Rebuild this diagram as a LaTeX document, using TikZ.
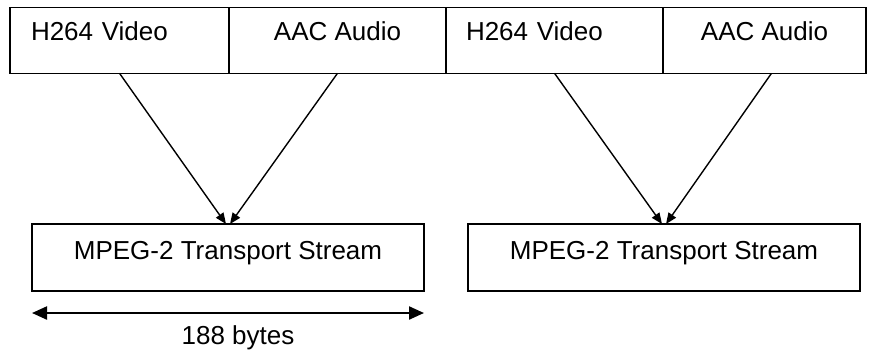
\documentclass[tikz,border=0pt]{standalone}
\usepackage{fontspec}
\setmainfont{Liberation Sans}
\usetikzlibrary{arrows.meta,positioning}

\begin{document}
\begin{tikzpicture}[
x=0.5pt, y=-0.5pt,
font=\fontsize{13}{15}\selectfont,
node distance=0pt,
cell/.style={draw, line width=0.7pt, outer sep=0pt, inner sep=0pt, minimum height=32.75pt, text height=0.75em, text depth=7.5pt},
vcell/.style={cell, minimum width=109.5pt, text width=88.5pt, align=left},
acell/.style={cell, minimum width=108.5pt, align=center},
tsbox/.style={draw, line width=0.7pt, outer sep=0pt, minimum width=196pt, minimum height=33.5pt, text height=0.75em, text depth=5.75pt},
arr/.style={-{Triangle[length=5.5pt,width=4.5pt]}, line width=0.7pt},
span/.style={{Triangle[length=7.5pt,width=6.5pt]}-{Triangle[length=7.5pt,width=6.5pt]}, line width=1.1pt}
]
\useasboundingbox (0,0) rectangle (870,349);
% packet row
\node[vcell] (v1) at (119.5,40.5) {H264 Video};
\node[acell, right=of v1] (a1) {AAC Audio};
\node[vcell, minimum width=108.5pt, right=of a1] (v2) {H264 Video};
\node[acell, minimum width=101.5pt, right=of v2] (a2) {AAC Audio};
% transport streams
\node[tsbox] (ts1) at (228,257.5) {MPEG-2 Transport Stream};
\node[tsbox, right=22pt of ts1] (ts2) {MPEG-2 Transport Stream};
\draw[arr] (v1.south) -- ([xshift=-1pt]ts1.north);
\draw[arr] (a1.south) -- ([xshift=1pt]ts1.north);
\draw[arr] (v2.south) -- ([xshift=-1pt]ts2.north);
\draw[arr] ([xshift=3.5pt]a2.south) -- ([xshift=1pt]ts2.north);
% packet length
\coordinate (sl) at ([yshift=-11pt]ts1.south west);
\coordinate (sr) at ([yshift=-11pt]ts1.south east);
\draw[span] (sl) -- node[below=2.5pt, xshift=5pt] (len) {188 bytes} (sr);
\end{tikzpicture}
\end{document}
